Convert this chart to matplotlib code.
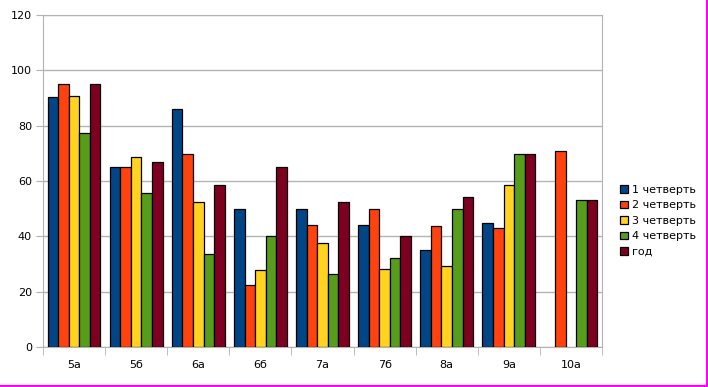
import matplotlib.pyplot as plt
import numpy as np

classes = ['5а', '5б', '6а', '6б', '7а', '7б', '8а', '9а', '10а']
series_names = ['1 четверть', '2 четверть', '3 четверть', '4 четверть', 'год']
q1 = [90.5, 65, 86, 50, 50, 44, 35, 44.7, np.nan]
q2 = [95.2, 65, 69.6, 22.3, 44, 50, 43.6, 42.9, 70.7]
q3 = [90.8, 68.6, 52.3, 27.7, 37.5, 28.1, 29.2, 58.5, np.nan]
q4 = [77.2, 55.5, 33.5, 40, 26.3, 32, 50, 69.6, 53]
year = [95.2, 66.7, 58.4, 65, 52.3, 40, 54.2, 69.6, 53]
colors = ['#004586', '#ff420e', '#ffd320', '#579d1c', '#7e0021']

fig = plt.figure(figsize=(7.08, 3.87), dpi=100)
ax = fig.add_axes([43 / 708, 40 / 387, 559 / 708, 332 / 387])

x = np.arange(len(classes))
w = 0.17
for i, (vals, name) in enumerate(zip([q1, q2, q3, q4, year], series_names)):
    ax.bar(x + (i - 2) * w, vals, w, color=colors[i], edgecolor='black',
           linewidth=0.9, label=name, zorder=3)

ax.set_xlim(-0.5, len(classes) - 0.5)
ax.set_ylim(0, 120)
ax.set_yticks(range(0, 121, 20))
ax.yaxis.grid(True, color='#b3b3b3', linewidth=1, zorder=0)
for s in ax.spines.values():
    s.set_color('#b3b3b3')
ax.set_xticks(x)
ax.set_xticklabels(classes)
ax.set_xticks(np.arange(-0.5, len(classes), 1), minor=True)
ax.tick_params(axis='x', which='major', length=0, pad=9, labelsize=8)
ax.tick_params(axis='x', which='minor', length=6, color='#b3b3b3')
ax.tick_params(axis='y', length=5, color='#b3b3b3', labelsize=8, pad=3)

ax.legend(loc='center left', bbox_to_anchor=(1.025, 0.38), frameon=False,
          fontsize=8, handlelength=0.7, handleheight=0.7, handletextpad=0.3,
          labelspacing=0.5, borderaxespad=0)

# magenta frame edges visible in the screenshot
fig.add_artist(plt.Line2D([0, 1], [0.003, 0.003], color='#ff00ff', linewidth=1.5))
fig.add_artist(plt.Line2D([0.998, 0.998], [0, 1], color='#ff00ff', linewidth=1.5))

fig.savefig('out.png', dpi=100)
